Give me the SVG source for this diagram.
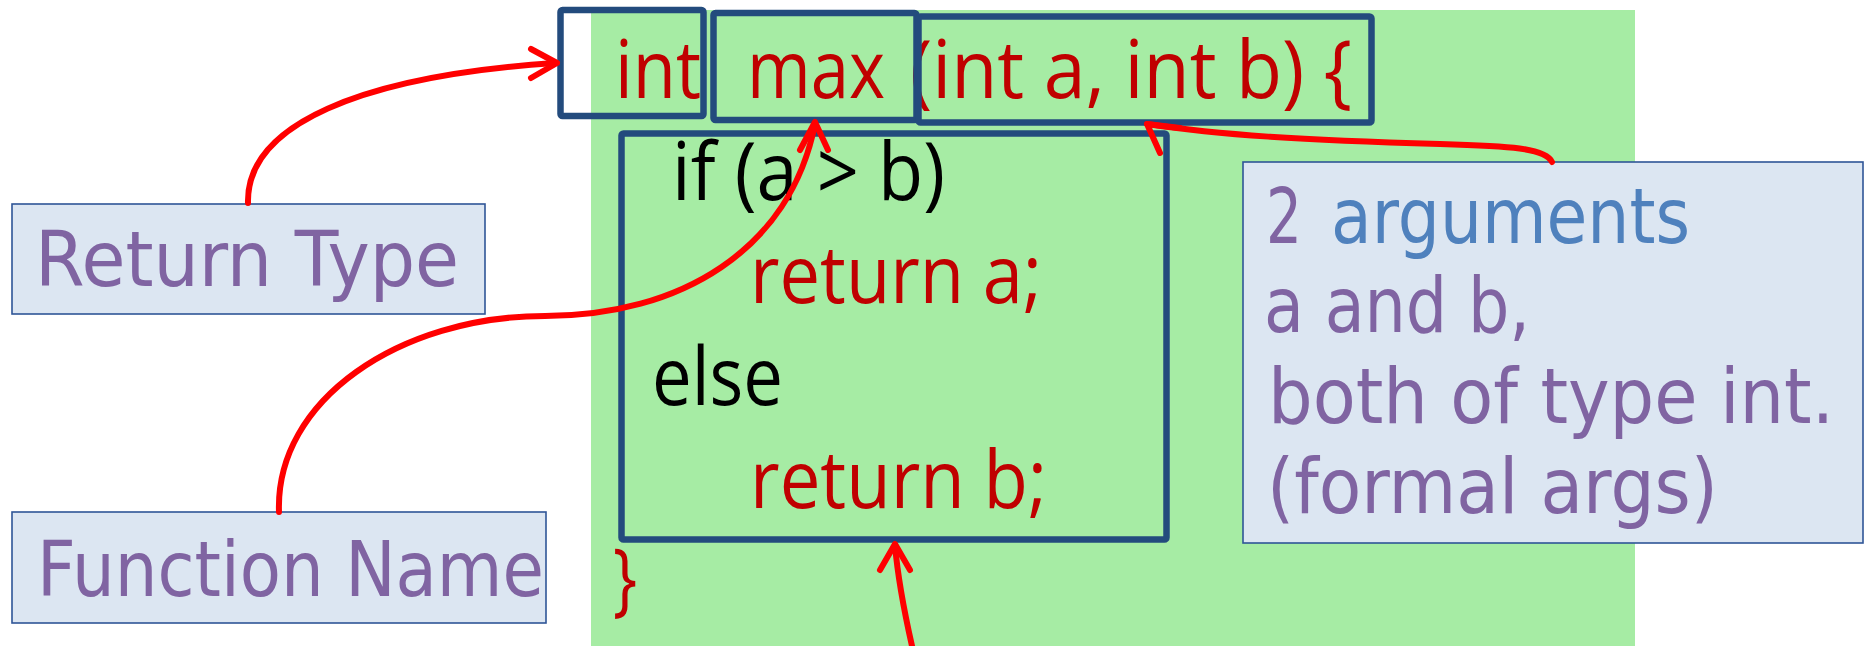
<svg xmlns="http://www.w3.org/2000/svg" width="1865" height="646" viewBox="0 0 1865 646">
<style>
.code{font-family:"Open Sans","Liberation Sans",sans-serif;font-size:80px;}
.red{fill:#C00000;}
.blk{fill:#000000;}
.cbox{fill:none;stroke:#234B7D;stroke-width:6.5;stroke-linejoin:round;}
.lbox{fill:#DCE6F2;stroke:#2F5597;stroke-width:1.6;}
.lbl{font-family:"Comic Sans MS","DejaVu Sans",sans-serif;font-size:76px;fill:#8064A2;}
.blue{fill:#4F81BD;}
.arr{fill:none;stroke:#FF0000;stroke-width:6;stroke-linecap:round;stroke-linejoin:round;}
</style>
<rect width="1865" height="646" fill="#FFFFFF"/>
<rect id="code-bg" x="591" y="10" width="1044" height="636" fill="#A6ECA4"/>
<g id="code-text">
<text class="code red" x="615" y="98" textLength="86" lengthAdjust="spacingAndGlyphs">int</text>
<text class="code red" x="747" y="98" textLength="138" lengthAdjust="spacingAndGlyphs">max</text>
<text class="code red" x="910" y="98" textLength="442" lengthAdjust="spacingAndGlyphs">(int a, int b) {</text>
<text class="code blk" x="672" y="200" textLength="273" lengthAdjust="spacingAndGlyphs">if (a &gt; b)</text>
<text class="code red" x="750" y="303" textLength="292" lengthAdjust="spacingAndGlyphs">return a;</text>
<text class="code blk" x="652" y="405" textLength="131" lengthAdjust="spacingAndGlyphs">else</text>
<text class="code red" x="750" y="508" textLength="297" lengthAdjust="spacingAndGlyphs">return b;</text>
<text class="code red" x="613" y="606" textLength="24" lengthAdjust="spacingAndGlyphs">}</text>
</g>
<g id="int-box"><rect class="cbox" x="560.5" y="10" width="143" height="106" rx="2"/></g>
<g id="max-box"><rect class="cbox" x="713.5" y="13" width="203" height="107" rx="2"/></g>
<g id="params-box"><rect class="cbox" x="918.5" y="16.5" width="453" height="106" rx="2"/></g>
<g id="body-box"><rect class="cbox" x="621.5" y="133.5" width="545" height="406" rx="2"/></g>
<g id="return-type">
<rect class="lbox" x="12" y="204" width="473" height="110"/>
<text class="lbl" x="35" y="286" textLength="424" lengthAdjust="spacingAndGlyphs">Return Type</text>
</g>
<g id="function-name">
<rect class="lbox" x="12" y="512" width="534" height="111"/>
<text class="lbl" x="37" y="596" textLength="507" lengthAdjust="spacingAndGlyphs">Function Name</text>
</g>
<g id="arguments">
<rect class="lbox" x="1243" y="162" width="620" height="381"/>
<text class="lbl" x="1266" y="243" textLength="36" lengthAdjust="spacingAndGlyphs">2</text>
<text class="lbl blue" x="1331" y="243" textLength="359" lengthAdjust="spacingAndGlyphs">arguments</text>
<text class="lbl" x="1264" y="332" textLength="266" lengthAdjust="spacingAndGlyphs">a and b,</text>
<text class="lbl" x="1268" y="423" textLength="566" lengthAdjust="spacingAndGlyphs">both of type int.</text>
<text class="lbl" x="1267" y="513" textLength="451" lengthAdjust="spacingAndGlyphs">(formal args)</text>
</g>
<g id="connectors">
<path class="arr" d="M 248 203 C 246 125, 360 76, 555 63"/>
<polyline class="arr" points="531,49 557,63 531,78"/>
<path class="arr" d="M 279 512 C 275 400, 400 316, 545 316 C 680 316, 790 250, 815 124"/>
<polyline class="arr" points="800,150 815,122 828,150"/>
<path class="arr" d="M 1552 162 C 1545 148, 1510 146, 1440 144 C 1300 140, 1220 135, 1147 124"/>
<polyline class="arr" points="1160,153 1147,124 1180,128"/>
<path class="arr" d="M 912 646 C 905 615, 898 580, 895 545"/>
<polyline class="arr" points="880,570 895,544 910,570"/>
</g>
</svg>
